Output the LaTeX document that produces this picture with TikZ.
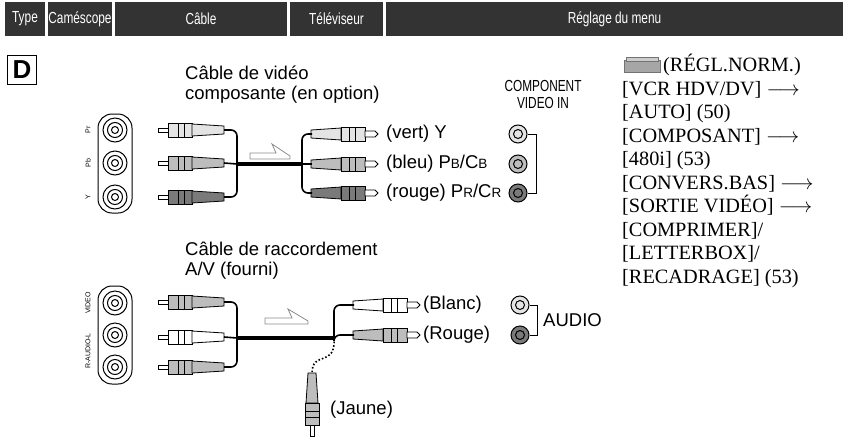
\documentclass[tikz,border=0pt]{standalone}
\usepackage{fontspec}
\setmainfont{Liberation Serif}
\setsansfont{Liberation Sans}
\newfontfamily\narrowsans[FakeStretch=0.74]{Liberation Sans}
\usetikzlibrary{positioning}
\definecolor{headgray}{HTML}{333333}
\definecolor{plugA}{HTML}{E4E4E4}
\definecolor{plugB}{HTML}{BDBDBD}
\definecolor{plugC}{HTML}{7A7A7A}
\newcommand\smcap[1]{{\fontsize{13.5}{16}\selectfont #1}}
\tikzset{
  head/.style={fill=headgray, text=white, minimum height=34pt, inner sep=0pt,
    font=\narrowsans\fontsize{16}{20}\selectfont},
  lbl/.style={font=\sffamily\fontsize{18.5}{22}\selectfont, inner sep=0pt, anchor=west},
  menu/.style={font=\fontsize{20.3}{23.5}\selectfont, inner sep=0pt, anchor=north west, align=left},
  cable/.style={line width=1.6pt, rounded corners=6pt},
  trunk/.style={line width=4pt},
  jack/.style={circle, draw, line width=1pt, minimum size=#1, inner sep=0pt},
  tiny/.style={rotate=90, font=\sffamily\fontsize{7}{7}\selectfont},
  % plug whose pin points to the left
  plugL/.pic={
    \draw[fill=white, line width=0.8pt] (0,-2) rectangle (10,2);
    \draw[fill=#1, line width=0.8pt] (10,-7) rectangle (34,7);
    \draw[line width=0.8pt] (20,-7) -- (20,7) (26,-7) -- (26,7);
    \draw[fill=#1, line width=0.8pt] (34,-6) -- (66,-4) -- (66,4) -- (34,6) -- cycle;
  },
  % plug whose pin points to the right
  plugR/.pic={
    \draw[fill=#1, line width=0.8pt] (0,-4) -- (30,-6) -- (30,6) -- (0,4) -- cycle;
    \draw[fill=#1, line width=0.8pt] (30,-7) rectangle (54,7);
    \draw[line width=0.8pt] (38,-7) -- (38,7) (44,-7) -- (44,7);
    \draw[fill=white, line width=0.8pt] (54,-3) -- (64,-3) -- (67,0) -- (64,3) -- (54,3) -- cycle;
  },
  % plug whose pin points down
  plugD/.pic={
    \draw[fill=plugB, line width=0.8pt] (-4,0) -- (-6,30) -- (6,30) -- (4,0) -- cycle;
    \draw[fill=plugB, line width=0.8pt] (-7,30) rectangle (7,52);
    \draw[line width=0.8pt] (-7,38) -- (7,38) (-7,44) -- (7,44);
    \draw[fill=white, line width=0.8pt] (-2,52) rectangle (2,63);
  },
  flow/.style={draw=black!45, fill=white, line width=0.8pt}
}
\begin{document}
\begin{tikzpicture}[x=1pt, y=-1pt]
  \useasboundingbox (0,0) rectangle (845,442);

  % header
  \node[head, minimum width=40pt] (hType) at (25,19) {Type};
  \node[head, minimum width=64pt] (hCam) at (80,19) {Caméscope};
  \node[head, minimum width=172pt] (hCab) at (201,19) {Câble};
  \node[head, minimum width=93pt] (hTv) at (336.5,19) {Téléviseur};
  \node[head, minimum width=457pt] (hMenu) at (614.5,19) {Réglage du menu};

  \node[draw, line width=1.2pt, minimum size=29pt, inner sep=0pt,
    font=\sffamily\bfseries\fontsize{26}{26}\selectfont] (typeD) at (22,70) {D};

  % ---------- component cable ----------
  \node[lbl, align=left, anchor=north west] (compTitle) at (185,66)
    {Câble de vidéo\\[-2pt]composante (en option)};

  \draw[line width=1pt, rounded corners=14pt] (98,114) rectangle (132,213);
  \foreach \y/\t in {130/Pr/Cr, 163/Pb/Cb, 197/Y} {
    \node[jack=24pt, fill=white] at (115,\y) {};
    \node[jack=15pt] at (115,\y) {};
    \node[jack=7pt] at (115,\y) {};
    \node[tiny] at (88,\y) {\t};
  }

  \foreach \y/\c [count=\i] in {130/plugA, 163/plugB, 197/plugC} {
    \pic at (158,\y) {plugL=\c};
    \coordinate (cL\i) at (224,\y);
  }
  \coordinate (jcL) at (237,164);
  \coordinate (jcR) at (302,164);
  \draw[cable] (cL1) -| (jcL) |- (cL3);
  \draw[cable] (cL2) -- (jcL);
  \draw[trunk] (jcL) -- (jcR);

  \foreach \y/\c/\t [count=\i] in {134/plugA/{(vert) Y}, 164/plugB/{(bleu) P\smcap{B}/C\smcap{B}},
      193/plugC/{(rouge) P\smcap{R}/C\smcap{R}}} {
    \pic at (311,\y) {plugR=\c};
    \coordinate (cR\i) at (312,\y);
    \node[lbl] (compL\i) at (386,\y) {\t};
  }
  \draw[cable] (cR1) -| (jcR) |- (cR3);
  \draw[cable] (cR2) -- (jcR);
  \draw[flow] (250,153) -- (276,153) -- (272,144) -- (290,156) -- (290,159) -- (250,159) -- cycle;

  \node[font=\narrowsans\fontsize{16}{17}\selectfont, align=center] (compIn) at (543,94)
    {COMPONENT\\VIDEO IN};
  \foreach \y/\c [count=\i] in {134/plugA, 164/plugB, 193/plugC} {
    \node[jack=18pt, fill=\c] (tvC\i) at (518,\y) {};
    \node[jack=9pt] at (518,\y) {};
  }
  \draw[line width=1pt] (tvC1.east) -- ++(9,0) |- (tvC3.east);

  % ---------- A/V cable ----------
  \node[lbl, align=left, anchor=north west] (avTitle) at (185,242)
    {Câble de raccordement\\[-2pt]A/V (fourni)};

  \draw[line width=1pt, rounded corners=14pt] (98,286) rectangle (132,384);
  \foreach \y in {303, 335, 367} {
    \node[jack=24pt, fill=white] at (115,\y) {};
    \node[jack=15pt] at (115,\y) {};
    \node[jack=7pt] at (115,\y) {};
  }
  \node[tiny] at (88,303) {VIDEO};
  \node[tiny] at (88,351) {R-AUDIO-L};

  \foreach \y/\c [count=\i] in {302/plugB, 337/white, 367/plugB} {
    \pic at (158,\y) {plugL=\c};
    \coordinate (aL\i) at (224,\y);
  }
  \coordinate (jaL) at (237,338);
  \coordinate (jaR) at (334,338);
  \draw[cable] (aL1) -| (jaL) |- (aL3);
  \draw[cable] (aL2) -- (jaL);
  \draw[trunk] (jaL) -- (jaR);
  \draw[flow] (265,318) -- (292,318) -- (288,309) -- (308,321) -- (308,324) -- (265,324) -- cycle;

  \foreach \y/\c/\t [count=\i] in {305/white/(Blanc), 335/plugB/(Rouge)} {
    \pic at (353,\y) {plugR=\c};
    \coordinate (aR\i) at (354,\y);
    \node[lbl] (avL\i) at (423,\y) {\t};
  }
  \draw[cable] (aR1) -| (jaR) |- (aR2);

  \pic at (312,373) {plugD};
  \coordinate (yTop) at (312,373);
  \draw[line width=1.6pt, dotted] (jaR) .. controls (336,368) and (312,350) .. (yTop);
  \node[lbl] (yLbl) at (330,410) {(Jaune)};

  \foreach \y/\c [count=\i] in {305/plugA, 335/plugC} {
    \node[jack=18pt, fill=\c] (tvA\i) at (520,\y) {};
    \node[jack=9pt] at (520,\y) {};
  }
  \draw[line width=1pt] (tvA1.east) -- ++(8,0) |- (tvA2.east);
  \node[lbl] (audio) at (543,320) {AUDIO};

  % ---------- menu ----------
  \draw[fill=black!35, draw=black!55] (624,60) rectangle (660,72);
  \draw[fill=black!20, draw=black!55] (626,57) rectangle (658,61);
  \node[menu] (menuTxt) at (622,54) {\hspace*{41pt}(RÉGL.NORM.)\\
    {[VCR HDV/DV]} $\longrightarrow$\\
    {[AUTO]} (50)\\
    {[COMPOSANT]} $\longrightarrow$\\
    {[480i]} (53)\\
    {[CONVERS.BAS]} $\longrightarrow$\\
    {[SORTIE VIDÉO]} $\longrightarrow$\\
    {[COMPRIMER]}/\\
    {[LETTERBOX]}/\\
    {[RECADRAGE]} (53)};
\end{tikzpicture}
\end{document}
